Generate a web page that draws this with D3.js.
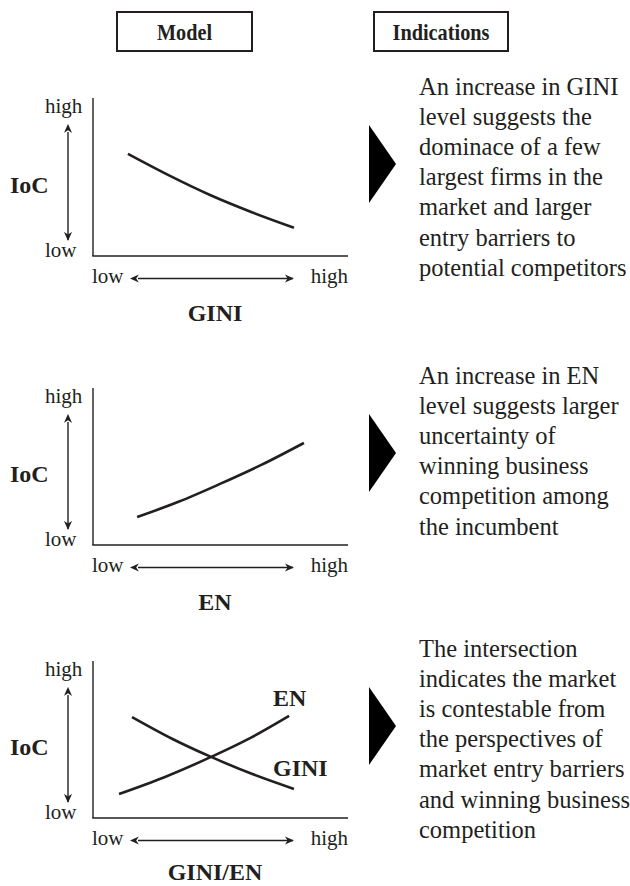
<!DOCTYPE html>
<html><head><meta charset="utf-8">
<script src="https://cdn.jsdelivr.net/npm/d3@7"></script>
<style>body{margin:0;background:#fff} svg{display:block}</style>
</head><body><svg id="c" width="630" height="886"></svg>
<script>
// ---- data ----
const headers = ["Model", "Indications"];
const axisTitles = ["GINI", "EN", "GINI/EN"];
const levelLabels = ["low", "high"];
const yTitle = "IoC";
const giniCurve1 = [[1.37,6.46],[2.98,5.10],[4.59,3.86],[6.23,2.77],[7.88,1.79]];
const enCurve2   = [[1.73,1.78],[3.35,2.75],[4.98,3.89],[6.60,5.10],[8.27,6.50]];
const giniCurve3 = [[1.53,6.43],[3.10,5.05],[4.63,3.89],[6.25,2.80],[7.88,1.85]];
const enCurve3   = [[1.02,1.53],[2.80,2.60],[4.63,3.89],[6.20,5.12],[7.69,6.50]];
const curveLabels3 = ["EN", "GINI"];
const indication1 = ["An increase in GINI","level suggests the","dominace of a few","largest firms in the","market and larger","entry barriers to","potential competitors"];
const indication2 = ["An increase in EN","level suggests larger","uncertainty of","winning business","competition among","the incumbent"];
const indication3 = ["The intersection","indicates the market","is contestable from","the perspectives of","market entry barriers","and winning business","competition"];

// ---- drawing ----
const ink = "#231f20";
const font = "'Liberation Serif','Times New Roman',serif";
const svg = d3.select("#c");
const defs = svg.append("defs");
["s","e"].forEach(k => {
  defs.append("marker").attr("id","ah"+k).attr("viewBox","0 0 10 10")
    .attr("refX", k==="e"?9:1).attr("refY",5).attr("markerWidth",9).attr("markerHeight",9)
    .attr("markerUnits","userSpaceOnUse").attr("orient","auto-start-reverse")
    .append("path").attr("d","M0,0.5 L10,5 L0,9.5 L3,5 Z").attr("fill",ink);
});

// headers
const headerBoxes = [[117,252,55],[374,508,97]];
headers.forEach((h,i) => {
  const [x0,x1,w] = headerBoxes[i];
  svg.append("rect").attr("x",x0).attr("y",12).attr("width",x1-x0).attr("height",39)
    .attr("fill","none").attr("stroke",ink).attr("stroke-width",2);
  svg.append("text").attr("x",(x0+x1)/2 - w/2).attr("y",40)
    .attr("textLength",w).attr("lengthAdjust","spacingAndGlyphs")
    .attr("font-family",font).attr("font-weight","bold").attr("font-size",24).attr("fill",ink).text(h);
});

const panels = [
  {top:98,  bottom:256, curves:[giniCurve1], text:indication1},
  {top:388, bottom:545, curves:[enCurve2], text:indication2},
  {top:661, bottom:818, curves:[giniCurve3, enCurve3], text:indication3, labels:true}
];

panels.forEach((p,i) => {
  const x = d3.scaleLinear().domain([0,10]).range([93,348]);
  const y = d3.scaleLinear().domain([0,10]).range([p.bottom,p.top]);
  const g = svg.append("g");
  // axes
  g.append("line").attr("x1",x(0)).attr("x2",x(0)).attr("y1",y(10)).attr("y2",y(0))
    .attr("stroke",ink).attr("stroke-width",1.4);
  g.append("line").attr("x1",x(0)-0.7).attr("x2",x(10)).attr("y1",y(0)).attr("y2",y(0))
    .attr("stroke",ink).attr("stroke-width",1.4);
  const t = (xx,yy,s,opts={}) => g.append("text").attr("x",xx).attr("y",yy)
    .attr("font-family",font).attr("font-size",opts.size||21).attr("fill",ink)
    .attr("font-weight",opts.bold?"bold":"normal").attr("text-anchor",opts.anchor||"start").text(s);
  // y labels
  t(45, p.top+15, levelLabels[1]);
  t(45, p.bottom+1, levelLabels[0]);
  t(10, p.bottom-63, yTitle, {bold:true,size:24});
  g.append("line").attr("x1",68).attr("x2",68).attr("y1",p.top+34).attr("y2",p.bottom-16)
    .attr("stroke",ink).attr("stroke-width",1.4)
    .attr("marker-start","url(#ahs)").attr("marker-end","url(#ahe)");
  // x labels
  t(92, p.bottom+27, levelLabels[0]);
  t(348, p.bottom+27, levelLabels[1], {anchor:"end"});
  g.append("line").attr("x1",138).attr("x2",293).attr("y1",p.bottom+22.5).attr("y2",p.bottom+22.5)
    .attr("stroke",ink).attr("stroke-width",1.4)
    .attr("marker-start","url(#ahs)").attr("marker-end","url(#ahe)");
  t(215, Math.min(p.bottom+65, 880), axisTitles[i], {bold:true,size:24,anchor:"middle"});
  // curves
  const line = d3.line().x(d=>x(d[0])).y(d=>y(d[1])).curve(d3.curveMonotoneX);
  p.curves.forEach(c => g.append("path").attr("d",line(c)).attr("fill","none")
    .attr("stroke",ink).attr("stroke-width",2.6));
  if (p.labels) {
    t(273, p.bottom-112, curveLabels3[0], {bold:true,size:24});
    t(273, p.bottom-42, curveLabels3[1], {bold:true,size:24});
  }
  // triangle
  g.append("path").attr("d",`M369,${p.bottom-131} L396,${p.bottom-92} L369,${p.bottom-53} Z`).attr("fill","#000");
  // indication text
  p.text.forEach((s,k) => t(419, p.bottom-161.5+k*30.2, s, {size:24.5}));
});
</script></body></html>
